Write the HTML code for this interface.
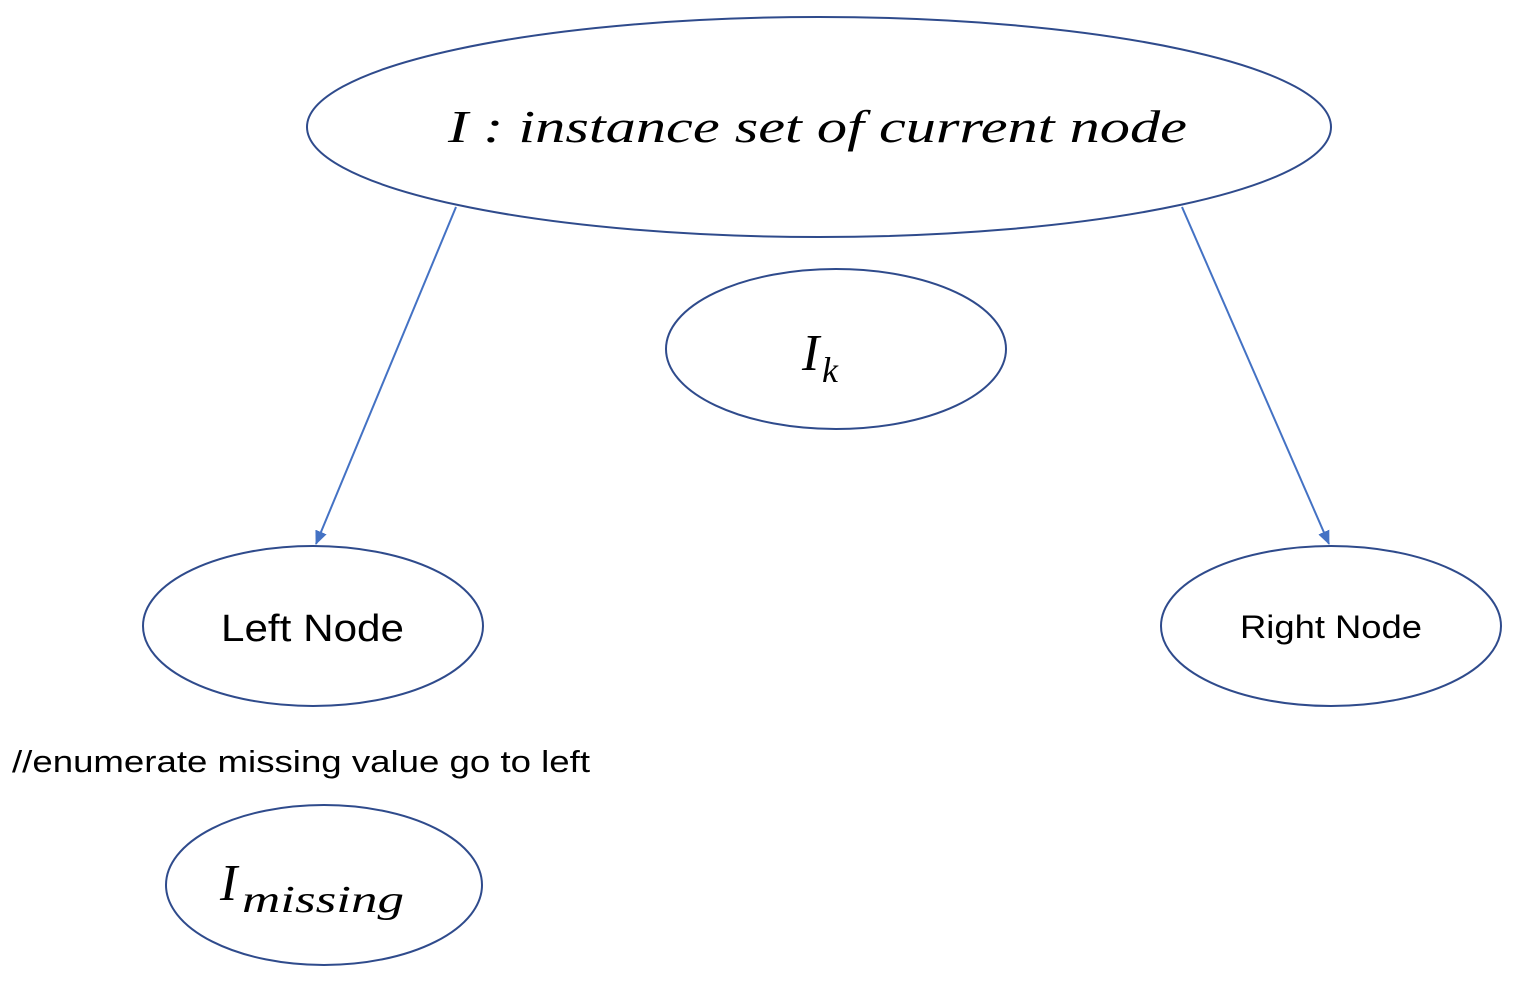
<!DOCTYPE html>
<html><head><meta charset="utf-8"><style>
html,body{margin:0;padding:0;background:#fff;}
svg{display:block}
</style></head><body>
<svg width="1522" height="982" viewBox="0 0 1522 982" xmlns="http://www.w3.org/2000/svg">
<defs><marker id="a" markerWidth="14" markerHeight="12" refX="13" refY="6" orient="auto" markerUnits="userSpaceOnUse"><path d="M0,0 L14,6 L0,12 z" fill="#4472C4"/></marker></defs>
<g fill="none" stroke="#2F4B8C" stroke-width="2">
<ellipse cx="819" cy="127" rx="512" ry="110"/>
<ellipse cx="836" cy="349" rx="170" ry="80"/>
<ellipse cx="313" cy="626" rx="170" ry="80"/>
<ellipse cx="1331" cy="626" rx="170" ry="80"/>
<ellipse cx="324" cy="885" rx="158" ry="80"/>
</g>
<g stroke="#4472C4" stroke-width="2">
<line x1="456" y1="207" x2="316" y2="544" marker-end="url(#a)"/>
<line x1="1182" y1="207" x2="1329" y2="544" marker-end="url(#a)"/>
</g>
<g font-family="Liberation Serif, serif" font-style="italic" fill="#000">
<text x="448" y="142" font-size="46" textLength="739" lengthAdjust="spacingAndGlyphs">I : instance set of current node</text>
<text x="802" y="370" font-size="52">I</text>
<text x="822" y="382" font-size="36">k</text>
<text x="220" y="900" font-size="52">I</text>
<text x="242" y="912" font-size="38" textLength="162" lengthAdjust="spacingAndGlyphs">missing</text>
</g>
<g font-family="Liberation Sans, sans-serif" fill="#000">
<text x="221" y="641" font-size="38" textLength="183" lengthAdjust="spacingAndGlyphs">Left Node</text>
<text x="1240" y="638" font-size="32" textLength="182" lengthAdjust="spacingAndGlyphs">Right Node</text>
<text x="12" y="772" font-size="31" textLength="578" lengthAdjust="spacingAndGlyphs">//enumerate missing value go to left</text>
</g>
</svg>
</body></html>
